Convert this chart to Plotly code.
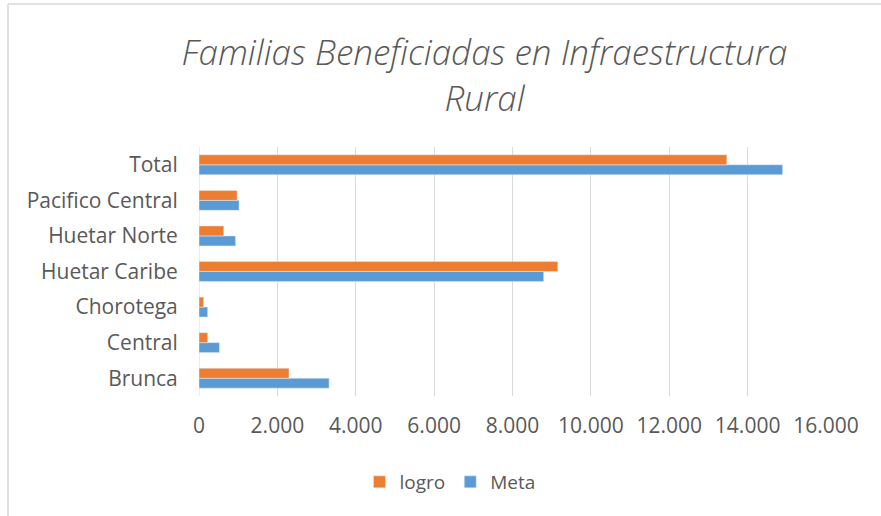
import plotly.graph_objects as go

categories = ["Brunca", "Central", "Chorotega", "Huetar Caribe", "Huetar Norte", "Pacifico Central", "Total"]
logro = [2297, 221, 120, 9157, 632, 973, 13469]
meta = [3320, 522, 221, 8796, 933, 1023, 14893]
x_ticks = [0, 2000, 4000, 6000, 8000, 10000, 12000, 14000, 16000]

font_fam = "Open Sans"
grey = "#595959"

W, H = 881, 516
L, R, T, B = 199, 55, 147, 120
pw, ph = W - L - R, H - T - B

fig = go.Figure()
fig.add_trace(go.Bar(y=categories, x=meta, name="Meta", orientation="h",
                     marker=dict(color="#5B9BD5")))
fig.add_trace(go.Bar(y=categories, x=logro, name="logro", orientation="h",
                     marker=dict(color="#ED7D31")))

fig.update_layout(
    width=W, height=H,
    margin=dict(l=L, r=R, t=T, b=B),
    paper_bgcolor="white", plot_bgcolor="white",
    barmode="group", bargap=0.44, bargroupgap=0,
    separators=",.",
    title=dict(text="Familias Beneficiadas en Infraestructura<br>Rural",
               x=0.55, xanchor="center", y=1 - 65 / H, yanchor="middle",
               font=dict(family=font_fam, size=35, color=grey, style="italic", weight=300)),
    font=dict(family=font_fam, size=19, color=grey),
    legend=dict(orientation="h", x=(450 - L) / pw, xanchor="center",
                y=(H - B - 482) / ph, yanchor="middle",
                traceorder="reversed", font=dict(size=19, color=grey)),
    showlegend=True,
)
fig.update_xaxes(range=[0, 16000], tickvals=x_ticks, tickformat=",d",
                 showgrid=True, gridcolor="#d9d9d9", gridwidth=1,
                 zeroline=False, showline=False,
                 ticks="outside", ticklen=11, tickcolor="rgba(0,0,0,0)",
                 tickfont=dict(size=21, color=grey))
fig.update_yaxes(type="category", categoryorder="array", categoryarray=categories,
                 showgrid=False, zeroline=False, showline=False,
                 ticks="outside", ticklen=16, tickcolor="rgba(0,0,0,0)",
                 tickfont=dict(size=21, color=grey))
fig.add_shape(type="line", xref="x", yref="paper", x0=0, x1=0, y0=0, y1=1,
              line=dict(color="#d9d9d9", width=1), layer="below")
# chart border (left and top edges visible)
fig.add_shape(type="line", xref="paper", yref="paper",
              x0=(8 - L) / pw, x1=(8 - L) / pw, y0=-B / ph, y1=1 + (T - 4) / ph,
              line=dict(color="#d9d9d9", width=1.5))
fig.add_shape(type="line", xref="paper", yref="paper",
              x0=(8 - L) / pw, x1=(W - L) / pw, y0=1 + (T - 4) / ph, y1=1 + (T - 4) / ph,
              line=dict(color="#d9d9d9", width=1.5))

fig.write_html("out.html", config={"displayModeBar": False},
               post_script="document.body.style.margin='0';")
